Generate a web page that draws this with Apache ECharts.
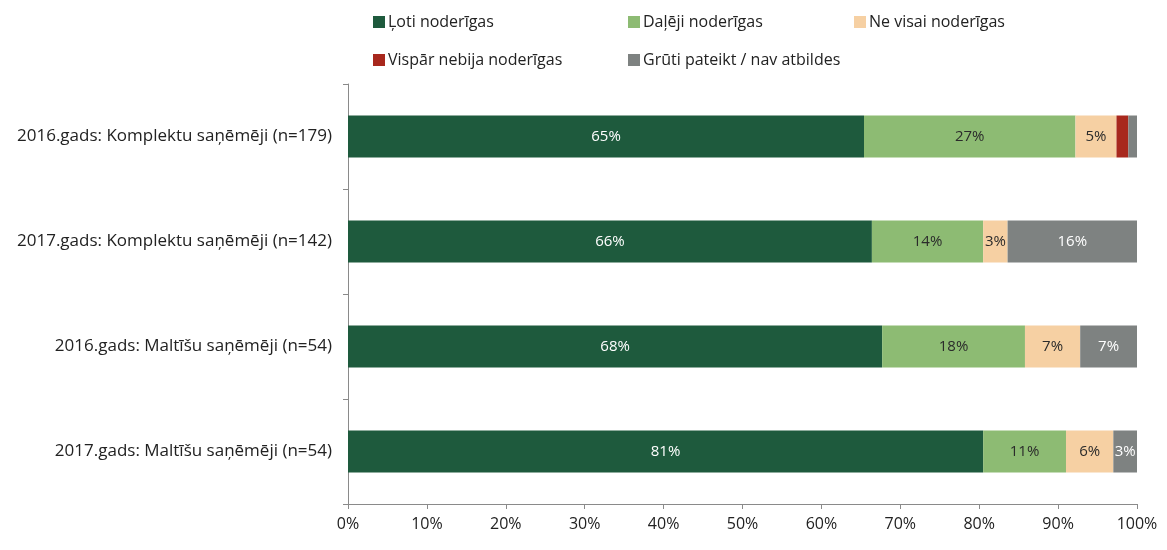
<!DOCTYPE html>
<html>
<head>
<meta charset="utf-8">
<script src="https://cdn.jsdelivr.net/npm/echarts@6/dist/echarts.min.js"></script>
<style>html,body{margin:0;padding:0;background:#fff}#c{width:1167px;height:550px}</style>
</head>
<body>
<div id="c"></div>
<script>
const categories = [
  '2016.gads: Komplektu saņēmēji (n=179)',
  '2017.gads: Komplektu saņēmēji (n=142)',
  '2016.gads: Maltīšu saņēmēji (n=54)',
  '2017.gads: Maltīšu saņēmēji (n=54)'
];
const seriesNames = ['Ļoti noderīgas','Daļēji noderīgas','Ne visai noderīgas','Vispār nebija noderīgas','Grūti pateikt / nav atbildes'];
const lotiNoderigas   = [65.4, 66.4, 67.7, 80.5];
const dalejiNoderigas = [26.8, 14.1, 18.1, 10.5];
const neVisai         = [5.2, 3.1, 7.0, 6.0];
const visparNebija    = [1.5, 0, 0, 0];
const grutiPateikt    = [1.1, 16.4, 7.2, 3.0];
const xTicks = [0,10,20,30,40,50,60,70,80,90,100];

const FONT = '"Open Sans", sans-serif';
const colors = ['#1e5a3d','#8dbb73','#f6d0a3','#a8281d','#7e8281'];
const labelColors = ['#ffffff','#2b2b2b','#2b2b2b','#ffffff','#ffffff'];
const showLabel = [true,true,true,false,true];
const dataArr = [lotiNoderigas, dalejiNoderigas, neVisai, visparNebija, grutiPateikt];

const series = seriesNames.map((n,i)=>({
  name:n, type:'bar', stack:'t', barWidth:'40%',
  data: dataArr[i],
  itemStyle:{color:colors[i]},
  label:{show:showLabel[i], position:'inside', color:labelColors[i], fontFamily:FONT, fontSize:15,
    formatter:p=> p.value>=2 ? Math.round(p.value)+'%' : ''},
  emphasis:{disabled:true}
}));

const chart = echarts.init(document.getElementById('c'));
const legendCommon = {orient:'vertical', itemWidth:12, itemHeight:12, itemGap:22, icon:'rect',
  textStyle:{fontFamily:FONT, fontSize:16, color:'#222', padding:[0,0,0,-2]}};
chart.setOption({
  animation:false,
  textStyle:{fontFamily:FONT},
  legend:[
    Object.assign({left:368, top:9, data:[seriesNames[0], seriesNames[3]]}, legendCommon),
    Object.assign({left:623, top:9, data:[seriesNames[1], seriesNames[4]]}, legendCommon),
    Object.assign({left:849, top:9, data:[seriesNames[2]]}, legendCommon)
  ],
  grid:{left:348, right:30, top:84, bottom:46, containLabel:false},
  xAxis:{type:'value', min:0, max:100, interval:10,
    axisLine:{show:true, lineStyle:{color:'#8a8a8a'}},
    axisTick:{show:true, length:5, lineStyle:{color:'#8a8a8a'}},
    splitLine:{show:false},
    axisLabel:{fontFamily:FONT, fontSize:16, color:'#222', margin:12,
      formatter:v=> xTicks.includes(v) ? v+'%' : ''}},
  yAxis:{type:'category', data:categories, inverse:true,
    axisLine:{show:true, lineStyle:{color:'#8a8a8a'}},
    axisTick:{show:true, length:5, lineStyle:{color:'#8a8a8a'}},
    axisLabel:{fontFamily:FONT, fontSize:17, color:'#222', margin:16}},
  series: series
});
</script>
</body>
</html>
